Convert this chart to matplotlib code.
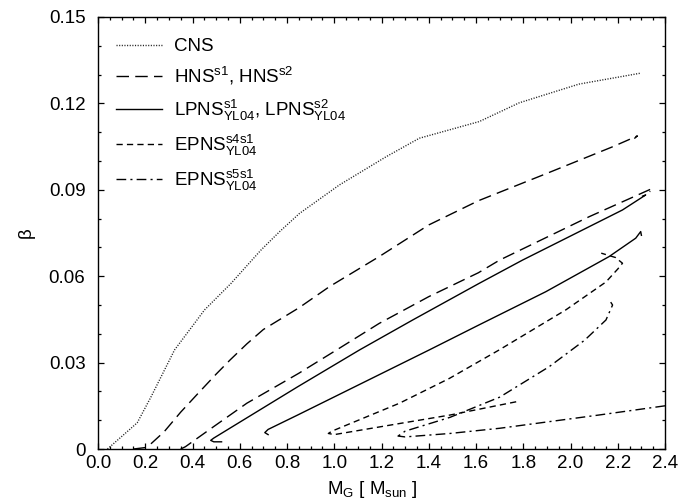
import numpy as np
import matplotlib
matplotlib.use("Agg")
import matplotlib.pyplot as plt
from matplotlib.ticker import MultipleLocator

plt.rcParams['font.family'] = ['Liberation Sans', 'DejaVu Sans']
plt.rcParams['mathtext.fontset'] = 'custom'
plt.rcParams['mathtext.rm'] = 'Liberation Sans'
plt.rcParams['mathtext.it'] = 'Liberation Sans:italic'
plt.rcParams['font.size'] = 13.5

# beta vs gravitational mass, one list pair per model sequence
cns_m = [0.04, 0.166, 0.225, 0.324, 0.451, 0.563, 0.69, 0.769, 0.853, 1.022,
         1.22, 1.36, 1.614, 1.783, 2.036, 2.297]
cns_b = [0.0, 0.0091, 0.0182, 0.0344, 0.0483, 0.0575, 0.0691, 0.0755, 0.0818, 0.0917,
         0.1015, 0.1079, 0.1137, 0.1202, 0.1267, 0.1305]

hns1_m = [0.15, 0.2, 0.22, 0.28, 0.35, 0.42, 0.5, 0.56, 0.63, 0.7, 0.85, 0.98,
          1.19, 1.4, 1.61, 1.9, 2.18, 2.283, 2.27]
hns1_b = [0.0, 0.0005, 0.0015, 0.006, 0.0128, 0.019, 0.026, 0.031, 0.0365, 0.0415,
          0.049, 0.0564, 0.0668, 0.0778, 0.0862, 0.0957, 0.105, 0.1087, 0.1078]

hns2_m = [0.35, 0.37, 0.49, 0.63, 0.85, 1.01, 1.19, 1.4, 1.61, 1.7, 2.08, 2.347, 2.335]
hns2_b = [0.0, 0.0008, 0.0078, 0.0159, 0.0263, 0.0344, 0.0436, 0.0529, 0.0612,
          0.0656, 0.0807, 0.0905, 0.0893]

lpns1_m = [0.523, 0.49, 0.477, 0.49, 0.845, 1.107, 1.332, 1.613, 1.797, 2.079,
           2.22, 2.318, 2.305]
lpns1_b = [0.0025, 0.0025, 0.003, 0.0038, 0.0216, 0.0344, 0.0448, 0.0575, 0.0656,
           0.0772, 0.083, 0.0882, 0.0878]

lpns2_m = [0.72, 0.706, 0.72, 0.845, 1.402, 1.613, 1.895, 2.163, 2.276, 2.297, 2.3]
lpns2_b = [0.005, 0.0057, 0.0068, 0.0118, 0.0344, 0.0431, 0.0546, 0.0668, 0.0732,
           0.0755, 0.0742]

eps4_m = [1.77, 1.49, 1.28, 1.0, 0.975, 0.99, 1.276, 1.487, 1.698, 1.98, 2.15,
          2.2, 2.22, 2.19, 2.13]
eps4_b = [0.0164, 0.0118, 0.0089, 0.005, 0.0054, 0.0062, 0.0159, 0.0245, 0.0344,
          0.0483, 0.058, 0.0625, 0.0645, 0.0665, 0.068]

eps5_m = [2.4, 2.12, 1.7, 1.49, 1.3, 1.27, 1.3, 1.49, 1.7, 1.91, 2.06, 2.15,
          2.178, 2.17]
eps5_b = [0.015, 0.0118, 0.0072, 0.0054, 0.0042, 0.0045, 0.0062, 0.011, 0.018,
          0.0286, 0.0378, 0.0448, 0.05, 0.051]

labels = ['CNS',
          r'HNS$^{\mathrm{s1}}$, HNS$^{\mathrm{s2}}$',
          r'LPNS$^{\mathrm{s1}}_{\mathrm{YL04}}$, LPNS$^{\mathrm{s2}}_{\mathrm{YL04}}$',
          r'EPNS$^{\mathrm{s4s1}}_{\mathrm{YL04}}$',
          r'EPNS$^{\mathrm{s5s1}}_{\mathrm{YL04}}$']

fig = plt.figure(figsize=(6.96, 5.04), dpi=100)
ax = fig.add_axes([0.1408, 0.1091, 0.8147, 0.8572])

lw = 1.0
l_cns, = ax.plot(cns_m, cns_b, color='#222222', lw=1.0, dashes=(0.8, 1.1))
l_hns, = ax.plot(hns1_m, hns1_b, color='black', lw=lw, dashes=(9, 4.5))
ax.plot(hns2_m, hns2_b, color='black', lw=lw, dashes=(9, 4.5))
l_lp, = ax.plot(lpns1_m, lpns1_b, color='black', lw=lw)
ax.plot(lpns2_m, lpns2_b, color='black', lw=lw)
l_e4, = ax.plot(eps4_m, eps4_b, color='black', lw=lw, dashes=(4.5, 3))
l_e5, = ax.plot(eps5_m, eps5_b, color='black', lw=lw, dashes=(7, 3, 1.5, 3))

ax.set_xlim(0, 2.4)
ax.set_ylim(0, 0.15)
ax.xaxis.set_major_locator(MultipleLocator(0.2))
ax.xaxis.set_minor_locator(MultipleLocator(0.05))
ax.yaxis.set_major_locator(MultipleLocator(0.03))
ax.yaxis.set_minor_locator(MultipleLocator(0.01))
ax.xaxis.set_major_formatter(plt.FuncFormatter(lambda v, p: f'{v:.1f}'))
ax.yaxis.set_major_formatter(plt.FuncFormatter(lambda v, p: '0' if abs(v) < 1e-9 else f'{v:.2f}'))
ax.tick_params(which='both', direction='in', top=True, right=True, width=0.9)
ax.tick_params(which='major', length=4.5)
ax.tick_params(which='minor', length=2.5)
ax.tick_params(axis='x', which='major', pad=4.5)
ax.tick_params(axis='y', which='major', pad=9)
for s in ax.spines.values():
    s.set_linewidth(1.0)

ax.set_xlabel(r'M$_{\mathrm{G}}$ [ M$_{\mathrm{sun}}$ ]', labelpad=5, x=0.483)
ax.set_ylabel('β', labelpad=10)

ax.legend([l_cns, l_hns, l_lp, l_e4, l_e5], labels, loc='upper left', frameon=False,
          handlelength=2.45, handletextpad=0.66, labelspacing=0.53,
          borderaxespad=0.0, bbox_to_anchor=(0.0185, 0.968))

fig.savefig('out.png', dpi=100)
